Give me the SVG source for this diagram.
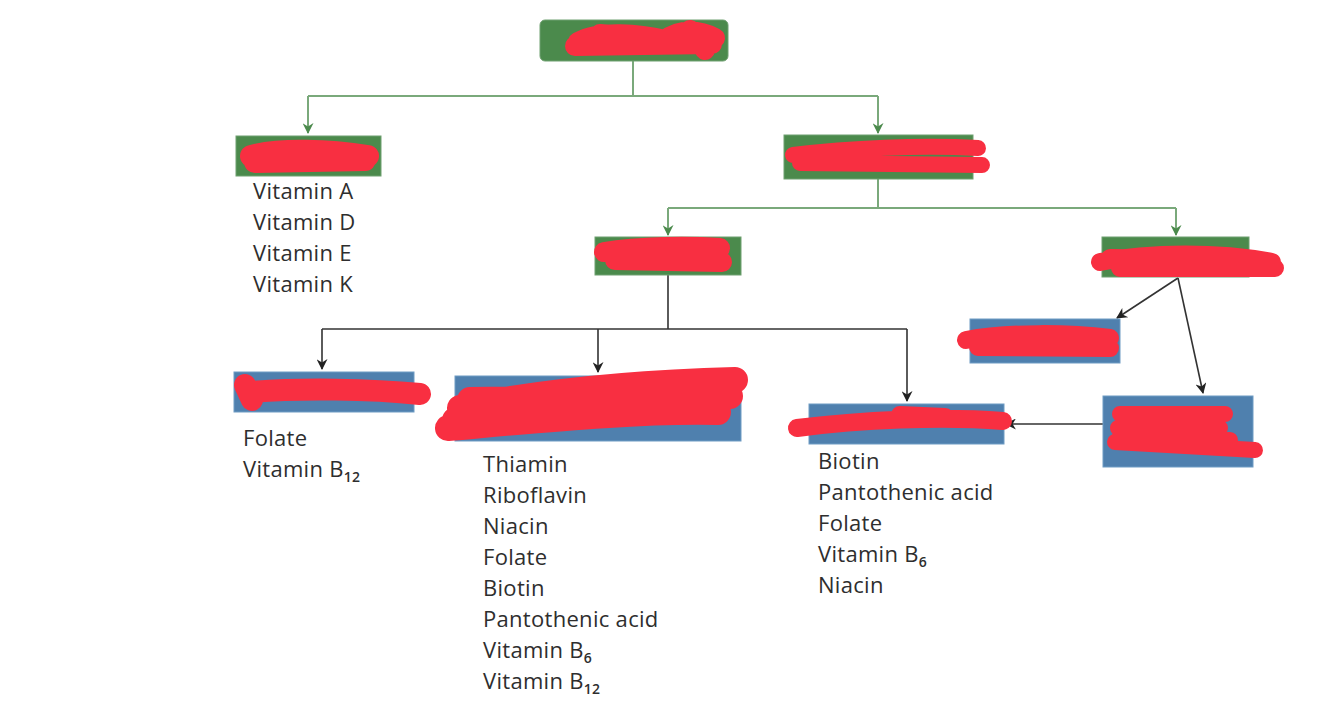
<svg xmlns="http://www.w3.org/2000/svg" width="1334" height="725" viewBox="0 0 1334 725">
<style>
.g{fill:#4b8a4c;stroke:#6fa070;stroke-width:1}
.b{fill:#4f80ae;stroke:#6f9cc4;stroke-width:1}
.t{font-family:"Open Sans","Liberation Sans",sans-serif;font-size:22px;letter-spacing:0.3px;fill:#2e2e2e}
.sub{font-size:14px;font-weight:600}
.cg{fill:none;stroke:#7aa97b;stroke-width:2}
.ck{fill:none;stroke:#333;stroke-width:1.6}
.s{fill:none;stroke:#f82f41;stroke-linecap:round;stroke-linejoin:round}
</style>
<defs>
<marker id="ag" viewBox="0 0 10 10" refX="9" refY="5" markerWidth="14" markerHeight="11" orient="auto" markerUnits="userSpaceOnUse"><path d="M0,0 L10,5 L0,10 L3,5 Z" fill="#4b8a4c"/></marker>
<marker id="ak" viewBox="0 0 10 10" refX="9" refY="5" markerWidth="14" markerHeight="11" orient="auto" markerUnits="userSpaceOnUse"><path d="M0,0 L10,5 L0,10 L3,5 Z" fill="#222"/></marker>
</defs>
<rect width="1334" height="725" fill="#fff"/>
<g id="connectors">
<path class="cg" d="M633,61 V96"/>
<path class="cg" d="M308,96 H878"/>
<path class="cg" d="M308,96 V133" marker-end="url(#ag)"/>
<path class="cg" d="M878,96 V133" marker-end="url(#ag)"/>
<path class="cg" d="M878,179 V208"/>
<path class="cg" d="M668,208 H1176"/>
<path class="cg" d="M668,208 V235" marker-end="url(#ag)"/>
<path class="cg" d="M1176,208 V235" marker-end="url(#ag)"/>
<path class="ck" d="M668,275 V329"/>
<path class="ck" d="M322,329 H907"/>
<path class="ck" d="M322,329 V369" marker-end="url(#ak)"/>
<path class="ck" d="M598,329 V372" marker-end="url(#ak)"/>
<path class="ck" d="M907,329 V401" marker-end="url(#ak)"/>
<path class="ck" d="M1178,278 L1117,318" marker-end="url(#ak)"/>
<path class="ck" d="M1178,278 L1203,393" marker-end="url(#ak)"/>
<path class="ck" d="M1103,424 H1006" marker-end="url(#ak)"/>
</g>
<g id="n-top"><rect class="g" x="540" y="20" width="188" height="41" rx="5"/></g>
<g id="n-fat"><rect class="g" x="236" y="136" width="145" height="40"/>
<text class="t" x="253" y="199">Vitamin A</text>
<text class="t" x="253" y="230">Vitamin D</text>
<text class="t" x="253" y="261">Vitamin E</text>
<text class="t" x="253" y="292">Vitamin K</text></g>
<g id="n-water"><rect class="g" x="784" y="135" width="189" height="44"/></g>
<g id="n-mid"><rect class="g" x="595" y="237" width="146" height="38"/></g>
<g id="n-right"><rect class="g" x="1102" y="237" width="147" height="40"/></g>
<g id="n-b1"><rect class="b" x="234" y="372" width="180" height="40"/>
<text class="t" x="243" y="446">Folate</text>
<text class="t" x="243" y="477">Vitamin B<tspan class="sub" dy="5">12</tspan></text></g>
<g id="n-b2"><rect class="b" x="455" y="376" width="286" height="65"/>
<text class="t" x="483" y="472">Thiamin</text>
<text class="t" x="483" y="503">Riboflavin</text>
<text class="t" x="483" y="534">Niacin</text>
<text class="t" x="483" y="565">Folate</text>
<text class="t" x="483" y="596">Biotin</text>
<text class="t" x="483" y="627">Pantothenic acid</text>
<text class="t" x="483" y="658">Vitamin B<tspan class="sub" dy="5">6</tspan></text>
<text class="t" x="483" y="689">Vitamin B<tspan class="sub" dy="5">12</tspan></text></g>
<g id="n-b3"><rect class="b" x="809" y="404" width="195" height="40"/>
<text class="t" x="818" y="469">Biotin</text>
<text class="t" x="818" y="500">Pantothenic acid</text>
<text class="t" x="818" y="531">Folate</text>
<text class="t" x="818" y="562">Vitamin B<tspan class="sub" dy="5">6</tspan></text>
<text class="t" x="818" y="593">Niacin</text></g>
<g id="n-b4"><rect class="b" x="970" y="319" width="150" height="44"/></g>
<g id="n-b5"><rect class="b" x="1103" y="396" width="150" height="71"/></g>
<g id="scribbles">
<path class="s" stroke-width="20" d="M578,42 C600,30 640,34 665,40 C680,28 700,30 715,38 M575,46 L712,44 M600,34 L700,44 M690,30 L705,50"/>
<path class="s" stroke-width="22" d="M251,156 C280,148 330,150 368,156 M255,162 L365,160"/>
<path class="s" stroke-width="16" d="M793,155 C850,148 920,145 978,148 M800,163 L982,165"/>
<path class="s" stroke-width="20" d="M604,252 C640,246 690,246 720,248 M615,260 L722,262"/>
<path class="s" stroke-width="18" d="M1100,262 C1150,252 1220,252 1272,262 M1120,268 L1275,268 M1110,258 L1260,260"/>
<path class="s" stroke-width="18" d="M966,340 C1010,332 1070,333 1110,338 M978,347 L1110,348"/>
<path class="s" stroke-width="22" d="M250,392 C300,388 370,389 420,394 M245,385 L252,400"/>
<path class="s" stroke-width="26" d="M460,408 C560,388 660,382 735,380 M448,428 C540,420 640,410 718,412 M470,400 L730,396 M455,420 L720,402"/>
<path class="s" stroke-width="18" d="M797,428 C860,420 940,416 1003,421 M900,415 L945,417"/>
<path class="s" stroke-width="16" d="M1120,414 L1225,414 M1118,428 L1220,428 M1115,442 L1255,450 M1120,436 L1230,440"/>
</g>
</svg>
